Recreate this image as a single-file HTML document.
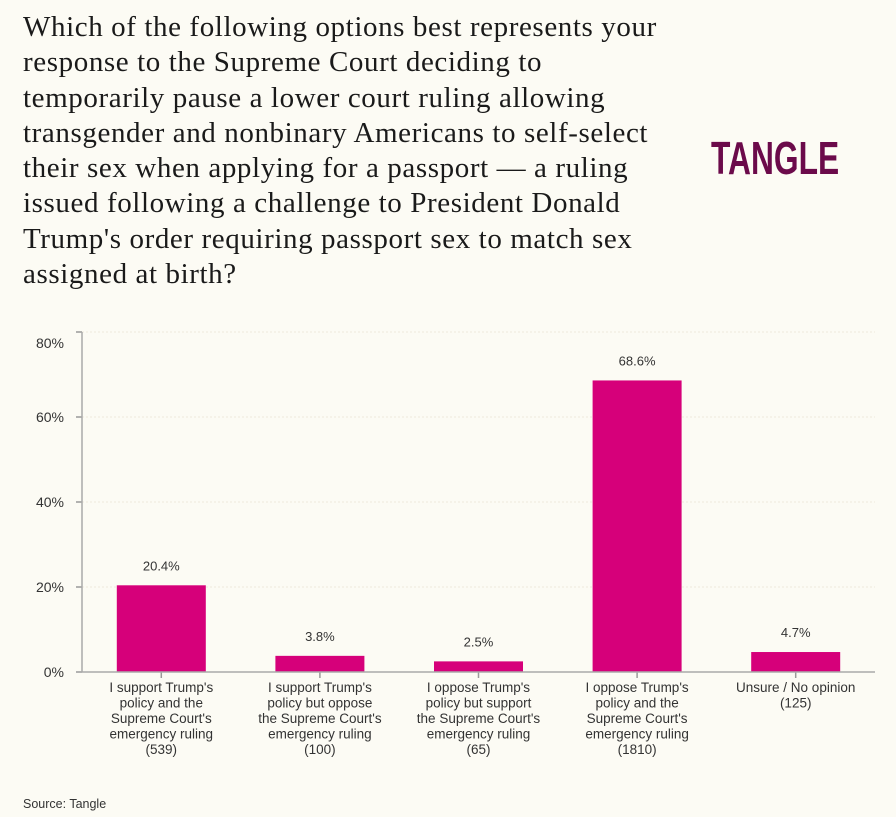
<!DOCTYPE html>
<html><head><meta charset="utf-8"><style>
body{margin:0;background:#fcfbf4;width:896px;height:817px;overflow:hidden;position:relative;font-family:"Liberation Sans",sans-serif}
#title{position:absolute;left:23px;top:10px;width:700px;font-family:"Liberation Serif",serif;font-size:29px;letter-spacing:0.6px;line-height:35.3px;color:#1a1a1a;margin:0;font-weight:normal;white-space:nowrap}
#logo{position:absolute;left:711px;top:133px;font-family:"Liberation Sans",sans-serif;font-weight:bold;font-size:46px;line-height:50px;color:#6b0a4a;transform:scaleX(0.69);transform-origin:left}
#src{position:absolute;left:23px;top:797px;font-size:12.5px;color:#333}
svg{position:absolute;left:0;top:0}
</style></head><body>
<h1 id="title">Which of the following options best represents your<br>response to the Supreme Court deciding to<br>temporarily pause a lower court ruling allowing<br>transgender and nonbinary Americans to self-select<br>their sex when applying for a passport — a ruling<br>issued following a challenge to President Donald<br>Trump's order requiring passport sex to match sex<br>assigned at birth?</h1>
<div id="logo">TANGLE</div>
<svg id="chart" width="896" height="817"></svg>
<div id="src">Source: Tangle</div>
<script>
const categories=[["I support Trump's","policy and the","Supreme Court's","emergency ruling","(539)"],["I support Trump's","policy but oppose","the Supreme Court's","emergency ruling","(100)"],["I oppose Trump's","policy but support","the Supreme Court's","emergency ruling","(65)"],["I oppose Trump's","policy and the","Supreme Court's","emergency ruling","(1810)"],["Unsure / No opinion","(125)"]];
const values=[20.4,3.8,2.5,68.6,4.7];
const valueLabels=["20.4%","3.8%","2.5%","68.6%","4.7%"];
const ticks=[0,20,40,60,80];
const tickLabels=["0%","20%","40%","60%","80%"];
const svg=document.getElementById('chart');const NS='http://www.w3.org/2000/svg';
const x0=82,x1=875,y0=672,yTop=332;
const y=v=>y0-(v/80)*(y0-yTop);
const step=(x1-x0)/categories.length;
const xc=i=>x0+step*(i+0.5);
function mk(t,a,p){const e=document.createElementNS(NS,t);for(const k in a)e.setAttribute(k,a[k]);(p||svg).appendChild(e);return e;}
ticks.forEach((t,i)=>{
 const g=mk('line',{x1:x0,x2:x1,y1:y(t),y2:y(t),stroke:'#eeeadd','stroke-dasharray':'2,2'});
 
 
 const tk=mk('line',{x1:x0-6,x2:x0,y1:y(t),y2:y(t),stroke:'#999','stroke-width':1.5});
 
 
 const ly=Math.max(y(t),yTop+11);
 const tx=mk('text',{x:x0-18,y:ly+5,'font-size':'14','text-anchor':'end',fill:'#333'});
 tx.textContent=tickLabels[i];
 
 
});
const ax=mk('line',{x1:x0,x2:x0,y1:yTop,y2:y0,stroke:'#aaa','stroke-width':1.5});


values.forEach((v,i)=>{
 const b=mk('rect',{x:xc(i)-44.5,y:y(v),width:89,height:y0-y(v),fill:'#d6007a'});
 
 
 const t=mk('text',{x:xc(i),y:y(v)-15,'font-size':'13','text-anchor':'middle',fill:'#333'});
 t.textContent=valueLabels[i];
 
 
 const tk=mk('line',{x1:xc(i),x2:xc(i),y1:y0,y2:y0+6,stroke:'#999','stroke-width':1.5});
 
 
 const lab=mk('text',{'font-size':'13.5','text-anchor':'middle',fill:'#333'});
 
 
 categories[i].forEach((ln,j)=>{const s=mk('tspan',{x:xc(i),y:y0+20+j*15.5},lab);s.textContent=ln;});
});
const base=mk('line',{x1:x0-6,x2:x1,y1:y0,y2:y0,stroke:'#aaa','stroke-width':1.5});


</script>
</body></html>
